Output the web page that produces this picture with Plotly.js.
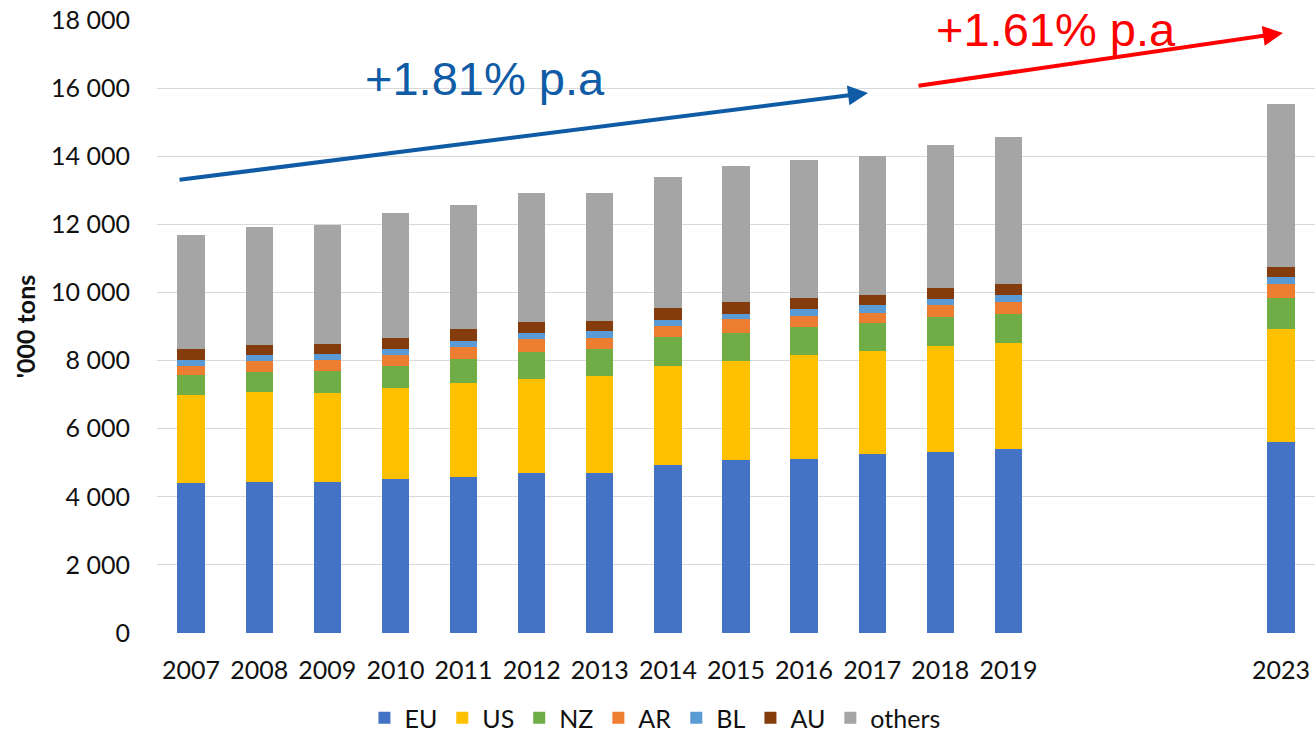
<!DOCTYPE html>
<html>
<head>
<meta charset="utf-8">
<script src="https://cdn.plot.ly/plotly-3.0.1.min.js"></script>
<style>html,body{margin:0;padding:0;background:#fff;}#chart{width:1315px;height:741px;}</style>
</head>
<body>
<div id="chart"></div>
<script>
// Data ('000 tons)
const years = [2007, 2008, 2009, 2010, 2011, 2012, 2013, 2014, 2015, 2016, 2017, 2018, 2019, 2023];
const yearLabels = ["2007","2008","2009","2010","2011","2012","2013","2014","2015","2016","2017","2018","2019","2023"];
const EU     = [4410, 4440, 4440, 4520, 4580, 4690, 4690, 4930, 5070, 5110, 5260, 5320, 5390, 5600];
const US     = [2570, 2640, 2610, 2660, 2750, 2770, 2850, 2920, 2920, 3050, 3010, 3120, 3120, 3330];
const NZ     = [585, 590, 650, 670, 710, 800, 790, 830, 830, 820, 820, 830, 870, 900];
const AR     = [285, 310, 320, 300, 360, 370, 340, 340, 390, 330, 310, 350, 350, 420];
const BL     = [165, 170, 170, 190, 160, 180, 190, 180, 170, 200, 220, 180, 200, 200];
const AU     = [325, 320, 310, 310, 360, 320, 310, 350, 340, 320, 310, 340, 310, 310];
const others = [3350, 3440, 3480, 3680, 3650, 3780, 3740, 3850, 3990, 4050, 4090, 4200, 4310, 4780];

const seriesNames = ["EU", "US", "NZ", "AR", "BL", "AU", "others"];
const seriesData = [EU, US, NZ, AR, BL, AU, others];
const seriesColors = ["#4472C4", "#FFC000", "#70AD47", "#ED7D31", "#5B9BD5", "#843C0C", "#A5A5A5"];

const traces = seriesNames.map((n, i) => ({
  type: "bar",
  name: n,
  x: years,
  y: seriesData[i],
  width: 0.4,
  marker: {color: seriesColors[i], line: {width: 0}},
  hoverinfo: "x+y+name"
}));

const layout = {
  width: 1315,
  height: 741,
  margin: {l: 157, r: 0, t: 20, b: 108, autoexpand: false},
  paper_bgcolor: "#ffffff",
  plot_bgcolor: "#ffffff",
  barmode: "stack",
  separators: ". ",
  font: {family: "Lato, 'Open Sans', sans-serif", size: 25, color: "#111111"},
  showlegend: true,
  legend: {
    orientation: "h",
    traceorder: "normal",
    x: 0.43, xanchor: "center",
    y: -0.1762, yanchor: "bottom",
    font: {size: 25, color: "#111111"},
    itemclick: false
  },
  xaxis: {
    type: "linear",
    range: [2006.5, 2023.5],
    tickmode: "array",
    tickvals: years,
    ticktext: yearLabels,
    showgrid: false,
    zeroline: false,
    showline: false,
    ticks: "",
    ticklabelstandoff: 20,
    tickfont: {size: 25, color: "#111111"}
  },
  yaxis: {
    range: [0, 18000],
    dtick: 2000,
    tick0: 0,
    tickformat: ",d",
    gridcolor: "#D9D9D9",
    gridwidth: 1,
    zeroline: false,
    showline: false,
    ticks: "",
    ticklabelstandoff: 26,
    tickfont: {size: 25, color: "#111111"},
    title: {text: "<b>'000 tons</b>", font: {size: 25, color: "#111111"}, standoff: 8}
  },
  annotations: [
    {
      xref: "paper", yref: "paper",
      x: 0.614, y: 0.881,
      ax: -690, ay: 87, axref: "pixel", ayref: "pixel",
      text: "", showarrow: true,
      arrowhead: 2, arrowsize: 1, arrowwidth: 4, arrowcolor: "#0F5BA5"
    },
    {
      xref: "paper", yref: "paper",
      x: 0.9724, y: 0.9788,
      ax: -366, ay: 53, axref: "pixel", ayref: "pixel",
      text: "", showarrow: true,
      arrowhead: 2, arrowsize: 1, arrowwidth: 4, arrowcolor: "#FF0000"
    },
    {
      xref: "paper", yref: "paper",
      x: 0.283, y: 0.905, xanchor: "center", yanchor: "middle",
      text: "+1.81% p.a", showarrow: false,
      font: {family: "'Liberation Sans', Arial, sans-serif", size: 47, color: "#0F5BA5"}
    },
    {
      xref: "paper", yref: "paper",
      x: 0.776, y: 0.984, xanchor: "center", yanchor: "middle",
      text: "+1.61% p.a", showarrow: false,
      font: {family: "'Liberation Sans', Arial, sans-serif", size: 47, color: "#FF0000"}
    }
  ]
};

Plotly.newPlot("chart", traces, layout, {displayModeBar: false, staticPlot: true});
</script>
</body>
</html>
